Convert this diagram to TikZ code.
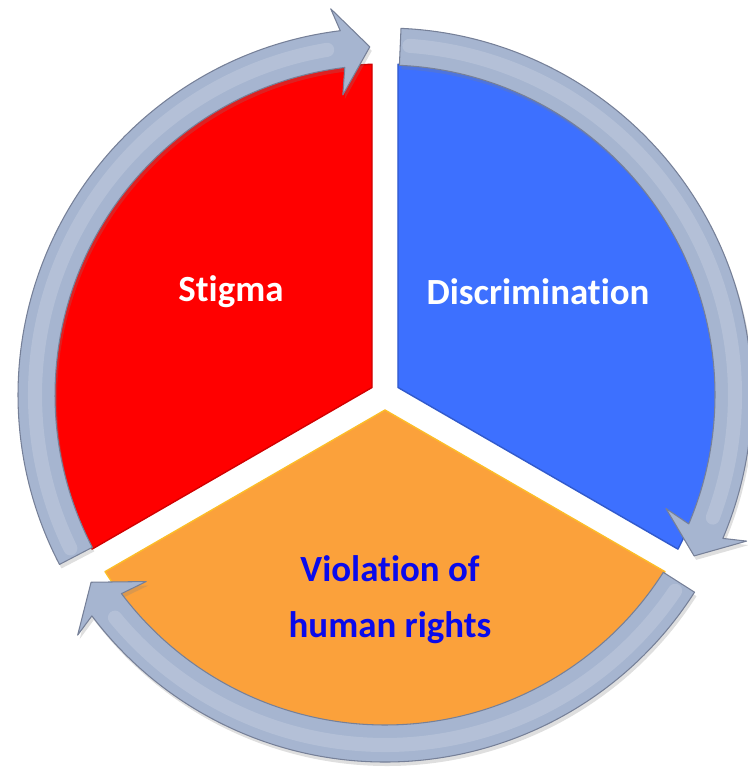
\documentclass[tikz,border=0pt]{standalone}
\usepackage{fontspec}
\setmainfont{Carlito}[Ligatures=NoCommon]
\usetikzlibrary{shadows}

\definecolor{stigmared}{RGB}{255,0,0}
\definecolor{discblue}{RGB}{61,112,255}
\definecolor{violorange}{RGB}{251,161,59}
\definecolor{ringfill}{RGB}{166,181,208}
\definecolor{ringedge}{RGB}{118,128,152}
\definecolor{textblue}{RGB}{10,10,235}

\begin{document}
\begin{tikzpicture}[
			sector/.style={line width=0.8pt, line join=round},
			loop/.style={fill=ringfill, draw=ringedge, line width=0.6pt, line join=round,
				drop shadow={opacity=0.25, shadow xshift=0.04, shadow yshift=-0.08}},
			shine/.style={white, opacity=0.16, line width=8pt, line cap=round},
			lbl/.style={font=\fontsize{21}{32}\selectfont\bfseries, align=center}
			]
			\useasboundingbox (-7.7,-7.44) rectangle (7.24,7.9);
			% the three wedges, pulled apart from the centre
			\filldraw[sector, fill=stigmared, draw=stigmared!82!black]
				(150:0.3) -- (92.25:6.62) arc[start angle=92.25, end angle=207.75, radius=6.62] -- cycle;
			\filldraw[sector, fill=discblue, draw=discblue!80!black]
				(30:0.3) -- (-27.75:6.62) arc[start angle=-27.75, end angle=87.75, radius=6.62] -- cycle;
			\filldraw[sector, fill=violorange, draw=violorange!70!yellow]
				(-90:0.3) -- (-147.75:6.62) arc[start angle=-147.75, end angle=-32.25, radius=6.62] -- cycle;
			% curved arrows running clockwise round the rim
			\draw[loop] (207.5:6.6) arc[start angle=207.5, end angle=97, radius=6.6]
				-- (98:6.06) -- (92.5:6.97) -- (98:7.8) -- (97:7.34)
				arc[start angle=97, end angle=207.5, radius=7.34] -- cycle;
			\draw[loop] (87.5:6.6) arc[start angle=87.5, end angle=-23, radius=6.6]
				-- (-22:6.06) -- (-27.5:6.97) -- (-22:7.8) -- (-23:7.34)
				arc[start angle=-23, end angle=87.5, radius=7.34] -- cycle;
			\draw[loop] (-32.5:6.6) arc[start angle=-32.5, end angle=-143, radius=6.6]
				-- (-142:6.06) -- (-147.5:6.97) -- (-142:7.8) -- (-143:7.34)
				arc[start angle=-143, end angle=-32.5, radius=7.34] -- cycle;
			\draw[shine] (206:7.0) arc[start angle=206, end angle=99.5, radius=7.0];
			\draw[shine] (86:7.0) arc[start angle=86, end angle=-20.5, radius=7.0];
			\draw[shine] (-34:7.0) arc[start angle=-34, end angle=-140.5, radius=7.0];
			% labels
			\node[lbl, text=white] (stigma) at (-3.08,2.06) {Stigma};
			\node[lbl, text=white] (discr) at (3.06,2.06) {Discrimination};
			\node[lbl, text=textblue] (viol) at (0.1,-4.1) {Violation of\\human rights};
	\end{tikzpicture}
\end{document}
